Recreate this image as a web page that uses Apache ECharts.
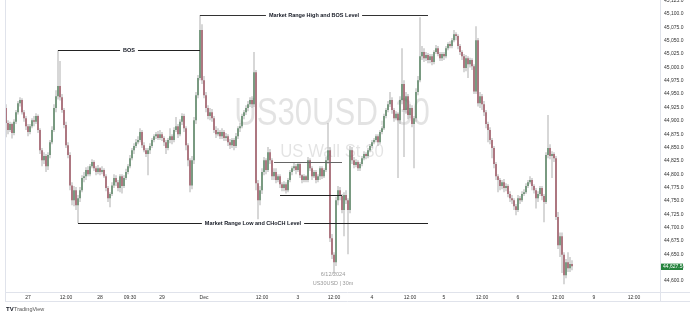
<!DOCTYPE html>
<html><head><meta charset="utf-8">
<script src="https://cdn.jsdelivr.net/npm/echarts@6/dist/echarts.min.js"></script>
<style>html,body{margin:0;padding:0;background:#fff}#c{width:690px;height:317px}</style>
</head><body><div id="c"></div>
<script>
// 30-minute candles (prices)
const opens = [
44924,44896,44883,44894,44877,44898,44916,44933,44939,44916,
44905,44890,44879,44890,44901,44898,44909,44883,44845,44826,
44834,44815,44836,44860,44883,44924,44946,44965,44944,44920,
44892,44854,44836,44779,44751,44770,44742,44755,44770,44793,
44796,44808,44800,44815,44823,44811,44804,44811,44804,44808,
44796,44774,44755,44763,44779,44793,44785,44774,44796,44778,
44793,44804,44815,44830,44845,44853,44860,44864,44879,44854,
44845,44838,44845,44853,44864,44871,44875,44868,44875,44868,
44860,44849,44864,44871,44864,44883,44890,44875,44898,44909,
44886,44854,44826,44779,44826,44901,44948,44980,45070,44976,
44948,44924,44909,44916,44905,44883,44875,44879,44871,44879,
44868,44871,44860,44854,44864,44853,44871,44886,44890,44909,
44916,44924,44931,44939,44931,44991,44783,44751,44770,44804,
44826,44808,44841,44826,44796,44804,44789,44796,44781,44774,
44781,44770,44789,44804,44811,44815,44808,44819,44798,44789,
44796,44789,44826,44811,44796,44804,44789,44796,44811,44796,
44808,44826,44845,44680,44649,44635,44751,44770,44759,44733,
44761,44751,44733,44845,44826,44817,44823,44811,44819,44830,
44838,44834,44845,44853,44860,44864,44871,44860,44879,44886,
44909,44920,44931,44939,44920,44905,44913,44901,44939,44969,
44920,44946,44911,44924,44894,44905,44954,44976,45021,45029,
45017,45023,45014,45021,45010,45029,45036,45025,45017,45025,
45021,45036,45044,45040,45051,45062,45059,45040,45029,45021,
44999,45017,45006,45014,45002,44955,45051,44933,44946,44931,
44916,44894,44883,44864,44849,44819,44796,44789,44778,44785,
44774,44778,44763,44755,44751,44740,44733,44755,44751,44763,
44766,44778,44785,44789,44778,44770,44755,44763,44774,44759,
44748,44836,44849,44834,44838,44830,44720,44667,44684,44649,
44611,44635,44624,44632];
const closes = [
44896,44883,44894,44877,44898,44916,44933,44939,44916,44905,
44890,44879,44890,44901,44898,44909,44883,44845,44826,44834,
44815,44836,44860,44883,44924,44946,44965,44944,44920,44892,
44854,44836,44779,44751,44770,44742,44755,44770,44793,44796,
44808,44800,44815,44823,44811,44804,44811,44804,44808,44796,
44774,44755,44763,44779,44793,44785,44774,44796,44778,44793,
44804,44815,44830,44845,44853,44860,44864,44879,44854,44845,
44838,44845,44853,44864,44871,44875,44868,44875,44868,44860,
44849,44864,44871,44864,44883,44890,44875,44898,44909,44886,
44854,44826,44779,44826,44901,44948,44980,45070,44976,44948,
44924,44909,44916,44905,44883,44875,44879,44871,44879,44868,
44871,44860,44854,44864,44853,44871,44886,44890,44909,44916,
44924,44931,44939,44931,44991,44783,44751,44770,44804,44826,
44808,44841,44826,44796,44804,44789,44796,44781,44774,44781,
44770,44789,44804,44811,44815,44808,44819,44798,44789,44796,
44789,44826,44811,44796,44804,44789,44796,44811,44796,44808,
44826,44845,44680,44649,44635,44751,44770,44759,44733,44761,
44751,44733,44845,44826,44817,44823,44811,44819,44830,44838,
44834,44845,44853,44860,44864,44871,44860,44879,44886,44909,
44920,44931,44939,44920,44905,44913,44901,44939,44969,44920,
44946,44911,44924,44894,44905,44954,44976,45021,45029,45017,
45023,45014,45021,45010,45029,45036,45025,45017,45025,45021,
45036,45044,45040,45051,45062,45059,45040,45029,45021,44999,
45017,45006,45014,45002,44955,45051,44933,44946,44931,44916,
44894,44883,44864,44849,44819,44796,44789,44778,44785,44774,
44778,44763,44755,44751,44740,44733,44755,44751,44763,44766,
44778,44785,44789,44778,44770,44755,44763,44774,44759,44748,
44836,44849,44834,44838,44830,44720,44667,44684,44649,44611,
44635,44624,44632,44627.5];
const lows = [
44869,44875,44879,44867,44873,44894,44912,44927,44912,44898,
44883,44871,44875,44886,44890,44894,44877,44838,44815,44819,
44804,44808,44830,44856,44879,44916,44940,44938,44915,44886,
44849,44830,44770,44742,44740,44733,44708,44748,44766,44785,
44789,44796,44796,44811,44806,44798,44800,44798,44800,44793,
44768,44748,44738,44759,44774,44778,44768,44766,44764,44774,
44789,44800,44811,44826,44838,44849,44856,44860,44849,44841,
44832,44798,44838,44849,44860,44866,44864,44864,44862,44853,
44838,44845,44858,44856,44860,44879,44868,44871,44892,44879,
44845,44815,44766,44772,44819,44894,44942,44976,44969,44942,
44916,44903,44901,44898,44877,44868,44871,44866,44866,44862,
44862,44853,44847,44849,44845,44849,44866,44879,44886,44903,
44911,44918,44926,44924,44926,44770,44714,44742,44763,44798,
44800,44804,44819,44789,44789,44783,44785,44774,44768,44768,
44764,44766,44785,44798,44806,44800,44804,44793,44783,44785,
44785,44785,44806,44789,44793,44783,44785,44789,44791,44793,
44804,44819,44673,44641,44613,44628,44742,44751,44727,44684,
44744,44650,44727,44819,44811,44813,44806,44806,44815,44826,
44828,44830,44841,44849,44856,44860,44853,44856,44875,44883,
44905,44916,44926,44913,44898,44901,44793,44894,44931,44832,
44913,44903,44905,44888,44811,44898,44948,44972,45014,45010,
45012,45008,45008,45004,45006,45025,45021,45012,45012,45014,
45017,45032,45036,45036,45047,45051,45034,45023,45014,44991,
44993,44980,45000,44995,44950,44950,44927,44924,44920,44909,
44886,44860,44856,44830,44811,44789,44766,44770,44772,44766,
44768,44757,44748,44744,44733,44723,44729,44744,44748,44759,
44763,44774,44781,44770,44764,44736,44748,44759,44751,44710,
44744,44830,44828,44793,44823,44714,44660,44645,44615,44594,
44605,44617,44617,44620];
const highs = [
44931,44901,44898,44897,44903,44920,44937,44944,44942,44920,
44909,44894,44894,44905,44909,44914,44912,44886,44849,44841,
44838,44841,44864,44890,44931,44957,45032,45012,44950,44924,
44898,44860,44841,44785,44778,44776,44761,44776,44798,44804,
44813,44815,44819,44828,44826,44815,44817,44813,44815,44811,
44800,44778,44766,44785,44800,44798,44789,44800,44800,44798,
44810,44819,44836,44849,44858,44866,44871,44886,44883,44860,
44849,44849,44858,44868,44875,44879,44881,44883,44879,44871,
44864,44868,44886,44875,44888,44907,44894,44903,44914,44913,
44890,44858,44830,44834,44907,44954,44986,45098,45081,44984,
44954,44929,44924,44922,44909,44890,44886,44883,44886,44883,
44877,44875,44866,44868,44868,44877,44890,44896,44913,44920,
44929,44937,44944,44946,45029,44995,44789,44778,44811,44832,
44830,44851,44847,44830,44811,44811,44800,44800,44785,44787,
44785,44793,44808,44815,44821,44819,44823,44823,44800,44800,
44798,44832,44830,44815,44808,44808,44800,44815,44815,44811,
44832,44896,44851,44688,44654,44758,44778,44776,44763,44766,
44770,44755,44853,44851,44832,44828,44826,44823,44834,44843,
44841,44849,44856,44864,44868,44875,44875,44883,44890,44913,
44924,44937,44954,44944,44924,44918,44916,44946,45036,44976,
44954,44950,44931,44929,44909,44961,44984,45094,45040,45036,
45029,45027,45025,45025,45032,45042,45040,45029,45029,45029,
45040,45047,45049,45055,45070,45066,45062,45044,45032,45025,
45023,45021,45018,45017,45006,45077,45055,44954,44950,44937,
44920,44898,44888,44868,44853,44823,44800,44793,44789,44791,
44783,44781,44768,44761,44755,44744,44761,44759,44768,44772,
44783,44789,44796,44793,44781,44774,44768,44778,44778,44763,
44841,44911,44856,44843,44841,44834,44729,44691,44691,44654,
44641,44654,44645,44639];

// time axis: total bar slots (incl. future space) and the tick labels at slot indices
const slotCount = 328;
const tickLabels = [[11,'27'],[30,'12:00'],[47,'28'],[62,'09:30'],[78,'29'],[99,'Dec'],
  [128,'12:00'],[146,'3'],[164,'12:00'],[183,'4'],[202,'12:00'],[219,'5'],[238,'12:00'],
  [256,'6'],[276,'12:00'],[294,'9'],[314,'12:00']];

// annotation levels: [startIndex, endIndex, price, text]
const bosLine = [26, 97, 45032, 'BOS'];
const rangeHighLine = [97, 211, 45098, 'Market Range High and BOS Level'];
const rangeLowLine = [36, 211, 44708, 'Market Range Low and CHoCH Level'];
const boxTopLine = [134, 168, 44823, ''];
const boxBottomLine = [137, 168, 44761, ''];

const FONT = '"Liberation Sans", Arial, sans-serif';
const categories = Array.from({length: slotCount}, (_, i) => String(i));
const tickMap = Object.fromEntries(tickLabels);
const rangeData = lows.map((l, i) => [l, highs[i], l, highs[i]]);
const bodyData = opens.map((o, i) => [o, closes[i], Math.min(o, closes[i]), Math.max(o, closes[i])]);

function seg(def, color) {
  const [x0, x1, y, text] = def;
  return [{
    coord: [x0, y],
    lineStyle: {color: color, width: 1, type: 'solid'},
    label: text ? {show: true, position: 'insideMiddle', formatter: text, fontSize: 5.5, fontWeight: 'bold',
      color: '#131722', backgroundColor: '#fff', padding: [1, 3], fontFamily: FONT} : {show: false}
  }, {coord: [x1, y]}];
}

const chart = echarts.init(document.getElementById('c'), null, {renderer: 'canvas'});
const fmt = v => Number(v).toLocaleString('en-US', {minimumFractionDigits: 1, maximumFractionDigits: 1});

const graphics = [
  {type: 'text', id: 'wm1', x: 332, y: 115, scaleX: 0.82, z: 0, silent: true,
    style: {text: 'US30USD, 30', fontSize: 38, fontFamily: FONT, fill: 'rgba(0,0,0,0.11)', align: 'center', verticalAlign: 'middle'}},
  {type: 'text', id: 'wm2', x: 332, y: 152, scaleX: 0.88, z: 0, silent: true,
    style: {text: 'US Wall St 30', fontSize: 19, fontFamily: FONT, fill: 'rgba(0,0,0,0.11)', align: 'center', verticalAlign: 'middle'}},
  {type: 'text', id: 'd1', x: 333, y: 274.3, z: 50, silent: true,
    style: {text: '6/12/2024', fontSize: 5.5, fontFamily: FONT, fill: '#9a9a9a', align: 'center', verticalAlign: 'middle'}},
  {type: 'text', id: 'd2', x: 333, y: 283.7, z: 50, silent: true,
    style: {text: 'US30USD | 30m', fontSize: 5.5, fontFamily: FONT, fill: '#9a9a9a', align: 'center', verticalAlign: 'middle'}},
  {type: 'line', id: 'l1', z: 50, silent: true, shape: {x1: 5, y1: 292.5, x2: 690, y2: 292.5}, style: {stroke: '#e0e3eb', lineWidth: 1}},
  {type: 'line', id: 'l2', z: 50, silent: true, shape: {x1: 5, y1: 301.5, x2: 690, y2: 301.5}, style: {stroke: '#e0e3eb', lineWidth: 1}},
  {type: 'line', id: 'l3', z: 50, silent: true, shape: {x1: 5.5, y1: 0, x2: 5.5, y2: 302}, style: {stroke: '#e0e3eb', lineWidth: 1}},
  {type: 'line', id: 'l4', z: 50, silent: true, shape: {x1: 660.5, y1: 0, x2: 660.5, y2: 302}, style: {stroke: '#e0e3eb', lineWidth: 1}},
  {type: 'text', id: 'tv1', x: 6, y: 309.5, z: 50, silent: true,
    style: {text: 'TV', fontSize: 6, fontWeight: 'bold', fontFamily: FONT, fill: '#131722', verticalAlign: 'middle'}},
  {type: 'text', id: 'tv2', x: 14, y: 309.5, z: 50, silent: true,
    style: {text: 'TradingView', fontSize: 5.5, fontFamily: FONT, fill: '#555', verticalAlign: 'middle'}}
];

chart.setOption({
  animation: false,
  backgroundColor: '#fff',
  grid: {left: 5, right: 29, top: 0.65, bottom: 22.65, containLabel: false, outerBoundsMode: 'none'},
  xAxis: {
    type: 'category', data: categories, boundaryGap: true,
    axisLine: {show: false}, axisTick: {show: false}, splitLine: {show: false},
    axisLabel: {
      interval: (i) => (i in tickMap),
      formatter: (v, i) => tickMap[i] || '',
      fontSize: 5, color: '#333', margin: 3, verticalAlign: 'middle', fontFamily: FONT
    }
  },
  yAxis: {
    type: 'value', position: 'right', min: 44575, max: 45125, interval: 25,
    axisLine: {show: false}, axisTick: {show: false}, splitLine: {show: false},
    axisLabel: {fontSize: 5, color: '#333', margin: 3, showMinLabel: false, formatter: fmt, fontFamily: FONT}
  },
  series: [
    {
      type: 'candlestick', name: 'range', data: rangeData, barWidth: 2.4, silent: true, z: 2,
      itemStyle: {color: '#b0b0b0', color0: '#b0b0b0', borderColor: '#b0b0b0', borderColor0: '#b0b0b0', borderWidth: 0}
    },
    {
      type: 'candlestick', name: 'US30USD', data: bodyData, barWidth: 1.8, silent: true, z: 3,
      itemStyle: {color: '#1d5e2d', color0: '#83192c', borderColor: '#1d5e2d', borderColor0: '#83192c', borderWidth: 0},
      markLine: {
        symbol: ['none', 'none'], silent: true, animation: false,
        data: [seg(bosLine, '#222'), seg(rangeHighLine, '#333'), seg(rangeLowLine, '#222'),
               seg(boxTopLine, '#666'), seg(boxBottomLine, '#222')]
      }
    }
  ],
  graphic: graphics
});

// last-price tag placed through the value axis
const lastClose = closes[closes.length - 1];
const yLast = chart.convertToPixel({yAxisIndex: 0}, lastClose);
graphics.push({
  type: 'group', id: 'tag', x: 661, y: yLast + 0.5, z: 100, silent: true,
  children: [
    {type: 'rect', z: 100, shape: {x: 0, y: -3.2, width: 22, height: 6.4}, style: {fill: '#26843e'}},
    {type: 'text', z: 101, x: 2, y: 0, style: {text: fmt(lastClose), fontSize: 5, fontFamily: FONT, fill: '#fff', verticalAlign: 'middle'}}
  ]
});
chart.setOption({graphic: graphics});
</script></body></html>
